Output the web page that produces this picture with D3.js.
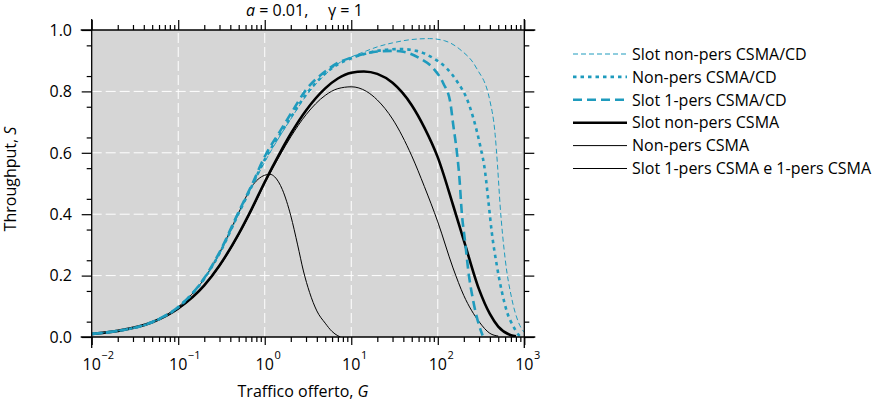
<!DOCTYPE html>
<html><head><meta charset="utf-8">
<script src="https://cdn.jsdelivr.net/npm/d3@7"></script>
<style>
body{margin:0;background:#fff}
svg{display:block}
text{font-family:"Open Sans","Noto Sans",sans-serif;fill:#000}
</style>
</head><body>
<svg id="c" width="875" height="403"></svg>
<script>
// ---------- data ----------
const xMajorTicks = [0.01, 0.1, 1, 10, 100, 1000];
const xTickExponents = ["\u22122", "\u22121", "0", "1", "2", "3"];
const yMajorTicks = [0, 0.2, 0.4, 0.6, 0.8, 1.0];

const seriesNames = [
  "Slot non-pers CSMA/CD",
  "Non-pers CSMA/CD",
  "Slot 1-pers CSMA/CD",
  "Slot non-pers CSMA",
  "Non-pers CSMA",
  "Slot 1-pers CSMA e 1-pers CSMA"
];

const gSlotNonPersCD = [0.01,0.02,0.05,0.1,0.2,0.3,0.5,0.7,1,1.5,2,3,5,7,10,15,20,30,50,80,120,180,280,400,460,490,525,600,715,850,1000];
const sSlotNonPersCD = [0.01,0.02,0.048,0.096,0.188,0.27,0.4,0.485,0.57,0.655,0.71,0.785,0.855,0.89,0.912,0.932,0.945,0.958,0.969,0.972,0.965,0.937,0.876,0.77,0.66,0.56,0.43,0.256,0.126,0.05,0.015];

const gNonPersCD = [0.01,0.02,0.05,0.1,0.2,0.3,0.5,0.7,1,1.5,2,3,5,7,10,15,20,37,57,89,127,173,216,258,308,352,385,420,480,550,630,750,860,920];
const sNonPersCD = [0.01,0.02,0.048,0.097,0.19,0.272,0.403,0.488,0.578,0.66,0.715,0.79,0.858,0.888,0.908,0.924,0.932,0.938,0.932,0.908,0.875,0.826,0.777,0.712,0.625,0.539,0.441,0.343,0.235,0.148,0.082,0.034,0.007,0];

const gSlot1PersCD = [0.01,0.02,0.05,0.1,0.2,0.3,0.5,0.7,1,1.5,2,3,5,7,10,15,20,30,40,62,89,116,139,151,166,178,189,207,226,258,308,330];
const sSlot1PersCD = [0.01,0.02,0.049,0.098,0.192,0.276,0.408,0.492,0.588,0.67,0.727,0.805,0.865,0.893,0.91,0.924,0.93,0.932,0.929,0.908,0.875,0.826,0.767,0.69,0.604,0.517,0.408,0.31,0.213,0.115,0.028,0.005];

const gSlotNonPersCSMA = [0.01,0.02,0.05,0.1,0.2,0.3,0.5,0.7,1,1.5,2,3,5,7,10,14,20,30,50,70,100,150,200,300,400,500,700,800];
const sSlotNonPersCSMA = [0.01,0.02,0.048,0.093,0.168,0.233,0.336,0.415,0.505,0.6,0.662,0.738,0.81,0.842,0.861,0.865,0.857,0.828,0.755,0.682,0.585,0.43,0.315,0.155,0.075,0.034,0.006,0.002];

const gNonPersCSMA = [0.01,0.02,0.05,0.1,0.2,0.3,0.5,0.7,1,1.5,2,3,5,7,10,15,20,30,50,70,100,150,200,300,400,500];
const sNonPersCSMA = [0.01,0.02,0.048,0.092,0.167,0.23,0.332,0.41,0.5,0.592,0.652,0.724,0.787,0.809,0.815,0.8,0.772,0.71,0.59,0.49,0.375,0.225,0.135,0.05,0.012,0.003];

const gSlot1PersCSMA = [0.01,0.02,0.05,0.1,0.2,0.3,0.5,0.7,1,1.15,1.3,1.6,2,2.4,2.8,3.3,4,5,6,7,7.5];
const sSlot1PersCSMA = [0.01,0.02,0.049,0.098,0.19,0.274,0.405,0.488,0.527,0.53,0.522,0.48,0.395,0.3,0.215,0.145,0.085,0.045,0.018,0.004,0];

// ---------- styles ----------
const TEAL = "#1f9bbd";
const styles = [
  {color: TEAL, width: 1, dash: "5,3"},
  {color: TEAL, width: 2.6, dash: "3.5,4"},
  {color: TEAL, width: 2.6, dash: "9,5"},
  {color: "#000", width: 2.6, dash: null},
  {color: "#000", width: 1, dash: null},
  {color: "#000", width: 1, dash: null}
];
const seriesData = [
  d3.zip(gSlotNonPersCD, sSlotNonPersCD),
  d3.zip(gNonPersCD, sNonPersCD),
  d3.zip(gSlot1PersCD, sSlot1PersCD),
  d3.zip(gSlotNonPersCSMA, sSlotNonPersCSMA),
  d3.zip(gNonPersCSMA, sNonPersCSMA),
  d3.zip(gSlot1PersCSMA, sSlot1PersCSMA)
];

// ---------- chart ----------
const svg = d3.select("#c");
const x = d3.scaleLog().domain([1e-2, 1e3]).range([91.7, 524.3]);
const y = d3.scaleLinear().domain([0, 1]).range([337, 30]);
const X0 = x.range()[0], X1 = x.range()[1], Y0 = y(0), Y1 = y(1);

svg.append("rect").attr("x", X0).attr("y", Y1).attr("width", X1 - X0).attr("height", Y0 - Y1).attr("fill", "#d6d6d6");

// grid
const grid = svg.append("g").attr("stroke", "#fff").attr("stroke-width", 1).attr("stroke-dasharray", "10,4");
xMajorTicks.slice(1, -1).forEach(v => grid.append("line").attr("x1", x(v)).attr("x2", x(v)).attr("y1", Y0).attr("y2", Y1));
yMajorTicks.slice(1, -1).forEach(v => grid.append("line").attr("y1", y(v)).attr("y2", y(v)).attr("x1", X0).attr("x2", X1));

// curves
svg.append("clipPath").attr("id", "clip").append("rect").attr("x", X0).attr("y", Y1).attr("width", X1 - X0).attr("height", Y0 - Y1);
const line = d3.line().x(d => x(d[0])).y(d => y(d[1])).curve(d3.curveMonotoneX);
const curves = svg.append("g").attr("clip-path", "url(#clip)");
// draw black first, teal on top
[5, 4, 3, 0, 1, 2].forEach(i => {
  const st = styles[i];
  curves.append("path").attr("d", line(seriesData[i])).attr("fill", "none")
    .attr("stroke", st.color).attr("stroke-width", st.width)
    .attr("stroke-dasharray", st.dash).attr("stroke-linejoin", "round");
});

// axes
const xMinor = [];
for (let d = -2; d < 3; d++) for (let k = 2; k <= 9; k++) xMinor.push(k * Math.pow(10, d));
const yMinor = d3.range(0.05, 1, 0.1).map(v => +v.toFixed(2));
function clean(g) { g.select(".domain").remove(); g.selectAll(".tick line").attr("stroke", "#000").attr("stroke-width", 1.2); g.selectAll("text").remove(); }

svg.append("g").attr("transform", `translate(0,${Y0})`).call(d3.axisBottom(x).tickValues(xMajorTicks).tickSize(8)).call(clean);
svg.append("g").attr("transform", `translate(0,${Y0})`).call(d3.axisBottom(x).tickValues(xMinor).tickSize(5)).call(clean);
svg.append("g").attr("transform", `translate(0,${Y1})`).call(d3.axisTop(x).tickValues(xMajorTicks).tickSize(10)).call(clean);
svg.append("g").attr("transform", `translate(0,${Y1})`).call(d3.axisTop(x).tickValues(xMinor).tickSize(5)).call(clean);
svg.append("g").attr("transform", `translate(${X0},0)`).call(d3.axisLeft(y).tickValues(yMajorTicks).tickSize(10)).call(clean);
svg.append("g").attr("transform", `translate(${X0},0)`).call(d3.axisLeft(y).tickValues(yMinor).tickSize(5)).call(clean);
svg.append("g").attr("transform", `translate(${X1},0)`).call(d3.axisRight(y).tickValues(yMajorTicks).tickSize(10)).call(clean);
svg.append("g").attr("transform", `translate(${X1},0)`).call(d3.axisRight(y).tickValues(yMinor).tickSize(5)).call(clean);

// frame lines, extended past the corners
const ext = 11;
const frame = svg.append("g").attr("stroke", "#000").attr("stroke-width", 1.3);
frame.append("line").attr("x1", X0 - ext).attr("x2", X1 + ext).attr("y1", Y0).attr("y2", Y0);
frame.append("line").attr("x1", X0 - ext).attr("x2", X1 + ext).attr("y1", Y1).attr("y2", Y1);
frame.append("line").attr("x1", X0).attr("x2", X0).attr("y1", Y1 - ext).attr("y2", Y0 + ext);
frame.append("line").attr("x1", X1).attr("x2", X1).attr("y1", Y1 - ext).attr("y2", Y0 + ext);

// y tick labels
svg.append("g").selectAll("text").data(yMajorTicks).join("text")
  .attr("x", 72).attr("y", d => y(d)).attr("dy", "0.36em").attr("text-anchor", "end")
  .attr("font-size", 16).text(d => d3.format(".1f")(d));

// x tick labels 10^n
const xl = svg.append("g");
xMajorTicks.forEach((v, i) => {
  const t = xl.append("text").attr("x", x(v)).attr("y", 370).attr("text-anchor", "middle").attr("font-size", 16).text("10");
  const w = t.node().getComputedTextLength();
  xl.append("text").attr("x", x(v) + w / 2 + 0.5).attr("y", 359).attr("font-size", 11).text(xTickExponents[i]);
});

// titles
const title = svg.append("text").attr("y", 15.5).attr("font-size", 16);
title.append("tspan").attr("x", 246).attr("font-style", "italic").text("a");
title.append("tspan").text(" = 0.01,");
svg.append("text").attr("x", 328).attr("y", 15.5).attr("font-size", 16).text("\u03b3 = 1");

const xt = svg.append("text").attr("x", 303).attr("y", 397).attr("text-anchor", "middle").attr("font-size", 16);
xt.append("tspan").text("Traffico offerto, ");
xt.append("tspan").attr("font-style", "italic").text("G");

const yt = svg.append("text").attr("transform", "translate(16,179) rotate(-90)").attr("text-anchor", "middle").attr("font-size", 16);
yt.append("tspan").text("Throughput, ");
yt.append("tspan").attr("font-style", "italic").text("S");

// legend
const lg = svg.append("g");
seriesNames.forEach((name, i) => {
  const yy = 54 + i * 22.9;
  const st = styles[i];
  lg.append("line").attr("x1", 573).attr("x2", 627).attr("y1", yy).attr("y2", yy)
    .attr("stroke", st.color).attr("stroke-width", st.width).attr("stroke-dasharray", st.dash);
  lg.append("text").attr("x", 632).attr("y", yy).attr("dy", "0.36em").attr("font-size", 16).text(name);
});
</script>
</body></html>
